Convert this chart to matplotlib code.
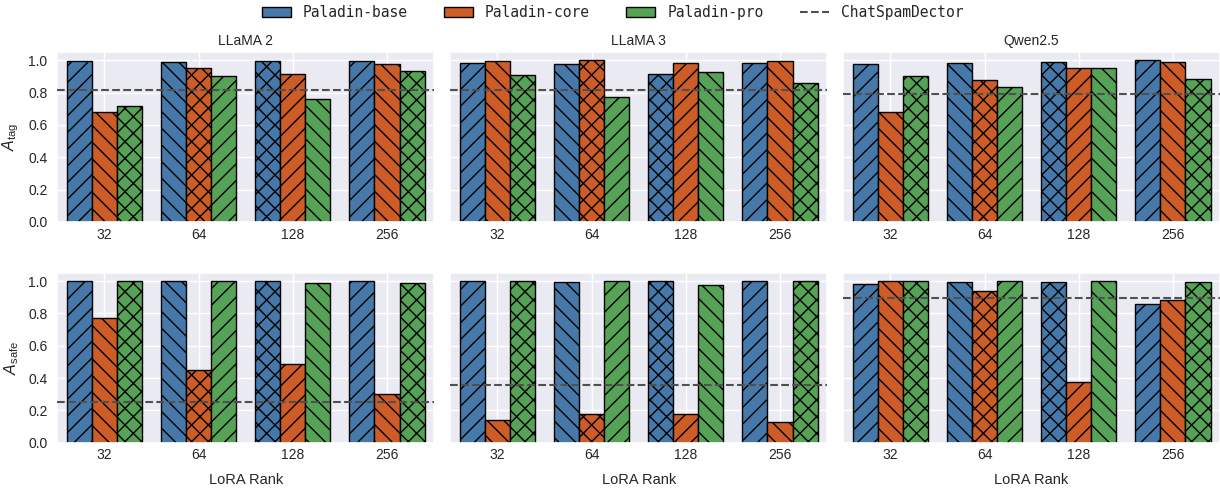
import matplotlib

matplotlib.use("Agg")
import matplotlib.pyplot as plt
import numpy as np
import seaborn as sns
from matplotlib.patches import Patch
from matplotlib.lines import Line2D

sns.set_theme(style="darkgrid")
plt.rcParams.update({
    "font.family": ["Liberation Sans", "DejaVu Sans"],
    "mathtext.fontset": "custom",
    "mathtext.rm": "Liberation Sans",
    "mathtext.it": "Liberation Sans:italic",
    "hatch.linewidth": 1.0,
    "xtick.major.size": 0,
    "ytick.major.size": 0,
})

ranks = ["32", "64", "128", "256"]
models = ["LLaMA 2", "LLaMA 3", "Qwen2.5"]
series = ["Paladin-base", "Paladin-core", "Paladin-pro"]

# A_tag, one list per model: [base, core, pro] per rank
tag_llama2 = [[0.995, 0.68, 0.715], [0.99, 0.955, 0.90], [0.995, 0.915, 0.76], [0.995, 0.975, 0.935]]
tag_llama3 = [[0.98, 0.995, 0.91], [0.975, 1.0, 0.77], [0.915, 0.985, 0.93], [0.985, 0.995, 0.86]]
tag_qwen = [[0.975, 0.68, 0.905], [0.98, 0.875, 0.835], [0.99, 0.95, 0.955], [1.0, 0.99, 0.885]]

# A_safe
safe_llama2 = [[1.0, 0.77, 1.0], [1.0, 0.45, 1.0], [1.0, 0.485, 0.985], [1.0, 0.30, 0.99]]
safe_llama3 = [[1.0, 0.14, 1.0], [0.995, 0.175, 1.0], [1.0, 0.18, 0.978], [1.0, 0.128, 1.0]]
safe_qwen = [[0.98, 1.0, 1.0], [0.997, 0.937, 1.0], [0.995, 0.375, 1.0], [0.86, 0.88, 0.997]]

# ChatSpamDector baseline
tag_baseline = [0.815, 0.815, 0.79]
safe_baseline = [0.255, 0.36, 0.895]

COLORS = ["#4679a9", "#cd5c27", "#56a257"]
HATCHES = ["//", "\\\\", "xx"]
BASE_C = "#505050"

rows = [
    ([tag_llama2, tag_llama3, tag_qwen], tag_baseline, r"$A_{\mathrm{tag}}$"),
    ([safe_llama2, safe_llama3, safe_qwen], safe_baseline, r"$A_{\mathrm{safe}}$"),
]

fig, axes = plt.subplots(2, 3, figsize=(12.2, 4.92), dpi=100, sharey=True)
fig.subplots_adjust(left=0.047, right=1.0, top=0.894, bottom=0.1, wspace=0.043, hspace=0.3)

width = 0.8 / 3
x = np.arange(len(ranks))
for r, (data, base, ylab) in enumerate(rows):
    for c, ax in enumerate(axes[r]):
        vals = np.array(data[c])
        for j in range(3):
            for i in range(len(ranks)):
                ax.bar(x[i] + (j - 1) * width, vals[i, j], width,
                       color=COLORS[j], edgecolor="black", linewidth=1.0,
                       hatch=HATCHES[(i + j) % 3], zorder=2)
        ax.axhline(base[c], ls="--", color=BASE_C, lw=1.5, zorder=3)
        ax.set_xticks(x)
        ax.set_xticklabels(ranks)
        ax.set_xlim(-0.5, 3.5)
        ax.set_ylim(0, 1.05)
        ax.set_yticks([0, 0.2, 0.4, 0.6, 0.8, 1.0])
        ax.tick_params(axis="x", labelsize=10, pad=4, colors="#262626")
        ax.tick_params(axis="y", labelsize=10, pad=7, colors="#262626")
        if r == 0:
            ax.set_title(models[c], fontsize=10, pad=5)
        if r == 1:
            ax.set_xlabel("LoRA Rank", fontsize=10.5, labelpad=8)
        if c == 0:
            ax.set_ylabel(ylab, fontsize=11.5, labelpad=5)

handles = [Patch(facecolor=COLORS[j], edgecolor="black", label=series[j]) for j in range(3)]
handles.append(Line2D([0], [0], ls="--", color=BASE_C, lw=1.5, label="ChatSpamDector"))
fig.legend(handles=handles, loc="upper center", ncol=4, frameon=False,
           bbox_to_anchor=(0.502, 1.017), prop={"family": "DejaVu Sans Mono", "size": 10.5},
           columnspacing=2.5, handlelength=2.0, handletextpad=0.8)

fig.savefig("out.png", dpi=100)
